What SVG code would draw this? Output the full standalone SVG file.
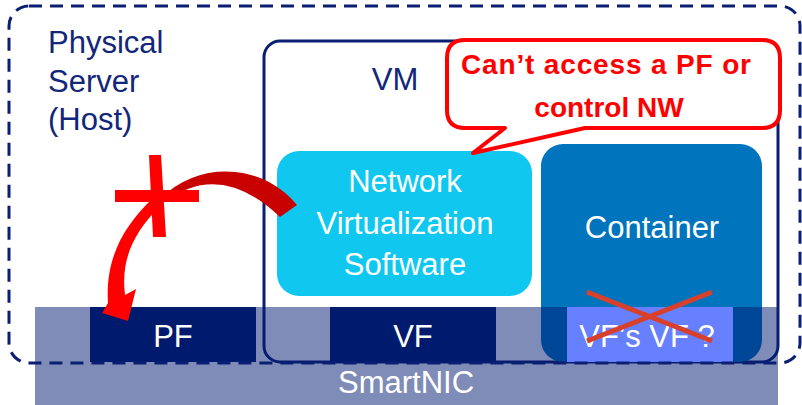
<svg xmlns="http://www.w3.org/2000/svg" width="802" height="405" viewBox="0 0 802 405">
<style>
.t{font-family:"Liberation Sans",Arial,sans-serif;font-size:31px}
.navy{fill:#12267a}
.w{fill:#ffffff}
.mid{text-anchor:middle}
.callt{font-family:"Liberation Sans",Arial,sans-serif;font-size:28px;font-weight:bold;fill:#ff0000;text-anchor:middle}
</style>
<rect width="802" height="405" fill="#ffffff"/>
<g id="vm">
<rect x="264" y="41" width="514" height="321" rx="16" fill="none" stroke="#0a1f72" stroke-width="3"/>
<text class="t navy mid" x="395" y="90">VM</text>
</g>
<g id="container">
<rect x="541" y="144" width="221" height="218" rx="22" fill="#0075be"/>
<text class="t w mid" x="652" y="238">Container</text>
</g>
<g id="nvs">
<rect x="277" y="151" width="255" height="145" rx="22" fill="#10c8ef"/>
<text class="t w mid" x="405" y="192">Network</text>
<text class="t w mid" x="405" y="234">Virtualization</text>
<text class="t w mid" x="405" y="275">Software</text>
</g>
<g id="smartnic">
<rect x="35" y="307" width="743" height="98" fill="#001a70" fill-opacity="0.5"/>
<text class="t w mid" x="406" y="393">SmartNIC</text>
</g>
<g id="pf">
<rect x="90" y="307" width="166" height="55" fill="#001a6e"/>
<text class="t w mid" x="173" y="347">PF</text>
</g>
<g id="vf">
<rect x="330" y="307" width="166" height="55" fill="#001a6e"/>
<text class="t w mid" x="413" y="347">VF</text>
</g>
<g id="vfvf">
<rect x="567" y="307" width="166" height="55" fill="#6680ff"/>
<text class="t w mid" x="647" y="347">VF’s VF ?</text>
<line x1="587" y1="292" x2="712" y2="341" stroke="#d9402b" stroke-width="5"/>
<line x1="712" y1="292" x2="587" y2="341" stroke="#d9402b" stroke-width="5"/>
</g>
<g id="host">
<rect x="9" y="6" width="791" height="357" rx="20" fill="none" stroke="#0a1f72" stroke-width="3" stroke-dasharray="13 8"/>
<text class="t navy" x="48" y="53">Physical</text>
<text class="t navy" x="48" y="92">Server</text>
<text class="t navy" x="48" y="130">(Host)</text>
</g>
<g id="callout">
<path d="M465,40 H762 Q780,40 780,58 V110 Q780,128 762,128 H585 L473,153 L505,128 H465 Q447,128 447,110 V58 Q447,40 465,40 Z" fill="#ffffff" stroke="#ff0000" stroke-width="4" stroke-linejoin="round"/>
<text class="callt" x="606" y="74" textLength="290" lengthAdjust="spacing">Can’t access a PF or</text>
<text class="callt" x="609" y="117">control NW</text>
</g>
<g id="connectors">
<path d="M297,205 A92,92 0 0 0 168,192 L165,202 Q220,160 280,217 Z" fill="#c80000"/>
<path d="M152,199 C124,226 105,258 108,303 L102,313 L128,321 L136,289 L125,295 C121,262 131,235 161,205 Z" fill="#ff0000"/>
<path d="M149,155 L161,155 L166,237 L153,237 Z" fill="#ff0000"/>
<rect x="115" y="190" width="84" height="12" fill="#ff0000"/>
</g>
</svg>
